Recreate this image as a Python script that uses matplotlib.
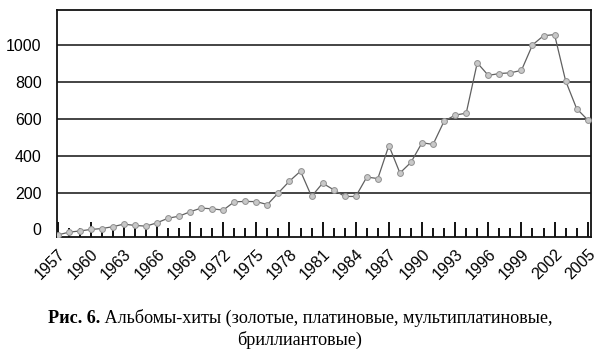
import matplotlib
matplotlib.use("Agg")
import matplotlib.pyplot as plt
from matplotlib.ticker import MultipleLocator

years = list(range(1957, 2006))
hits = [-30, -15, -8, 0, 5, 15, 29, 22, 18, 36,
        61, 72, 96, 116, 112, 105, 150, 152, 151, 135,
        199, 262, 316, 179, 251, 215, 179, 179, 284, 276,
        455, 306, 364, 470, 461, 587, 620, 630, 903, 835,
        845, 849, 862, 1000, 1050, 1056, 806, 655, 594]
y_ticks = [0, 200, 400, 600, 800, 1000]
label_years = list(range(1957, 2006, 3))

caption_bold = "Рис. 6."
caption_rest = " Альбомы-хиты (золотые, платиновые, мультиплатиновые,"
caption_line2 = "бриллиантовые)"

fig = plt.figure(figsize=(6.0, 3.53), dpi=100)
ax = fig.add_axes([0.095, 0.329, 0.89, 0.643])

for v in y_ticks[1:]:
    ax.axhline(v, color="#111111", linewidth=1.1, zorder=1)

ax.plot(years, hits, color="#606060", linewidth=0.9, marker="o", markersize=4.2,
        markerfacecolor="#c8c8c8", markeredgecolor="#909090", markeredgewidth=0.7, zorder=3)

ax.set_xlim(1956.95, 2005.3)
ax.set_ylim(-40, 1190)

ax.set_yticks(y_ticks)
ax.set_yticklabels([str(v) for v in y_ticks], fontsize=11.5, family="Liberation Sans")
ax.tick_params(axis="y", length=0, pad=11)

ax.set_xticks(label_years)
ax.xaxis.set_minor_locator(MultipleLocator(1))
ax.set_xticklabels([str(y) for y in label_years], rotation=45, ha="right",
                   rotation_mode="anchor", fontsize=11.5, family="Liberation Sans")
ax.tick_params(axis="x", which="major", direction="in", length=11, width=1.4,
               color="#111111", pad=7)
ax.tick_params(axis="x", which="minor", direction="in", length=6.5, width=1.4,
               color="#111111")

for s in ax.spines.values():
    s.set_color("#111111")
    s.set_linewidth(1.3)

# caption: bold "Рис. 6." followed by regular text
fig.canvas.draw()
r = fig.canvas.get_renderer()
t1 = fig.text(48 / 600, 1 - 323 / 353, caption_bold, fontsize=13.1, fontweight="bold",
              family="Liberation Serif", ha="left", va="baseline")
bb = t1.get_window_extent(renderer=r)
fig.text(bb.x1 / fig.bbox.width, 1 - 323 / 353, caption_rest, fontsize=13.1,
         family="Liberation Serif", ha="left", va="baseline")
fig.text(0.5, 1 - 345 / 353, caption_line2, fontsize=13.1, family="Liberation Serif",
         ha="center", va="baseline")

fig.savefig("out.png", dpi=100)
